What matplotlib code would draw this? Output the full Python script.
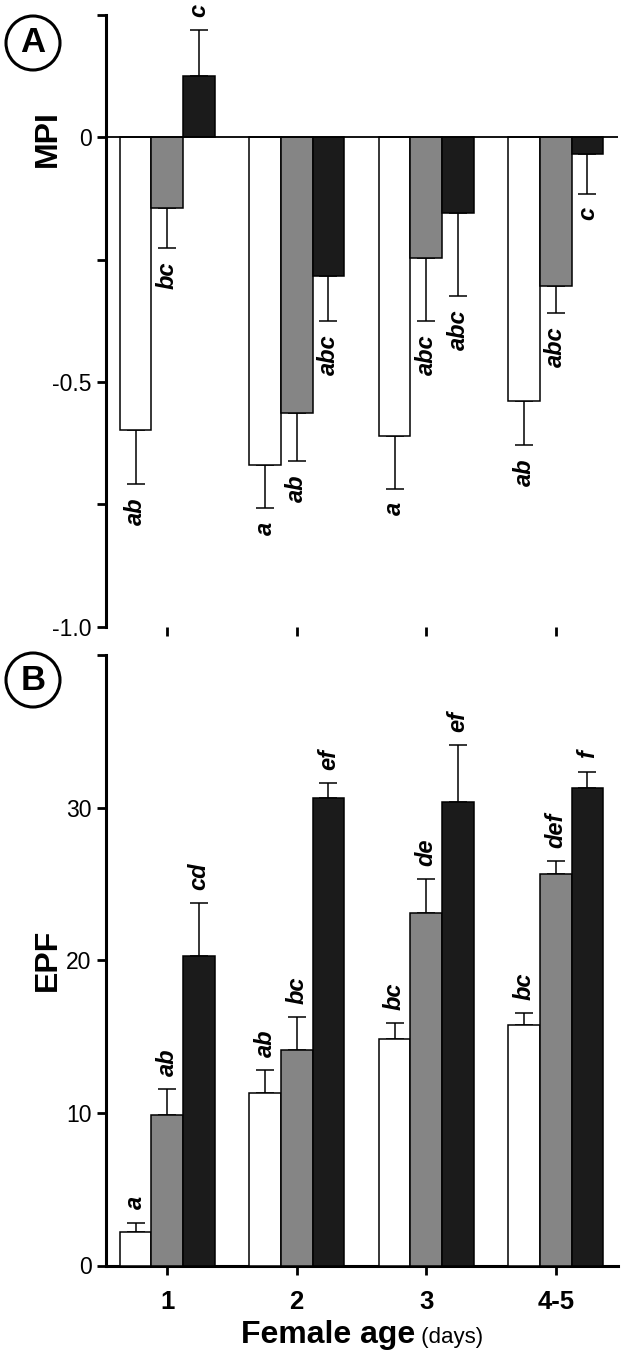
import matplotlib.pyplot as plt
import numpy as np
from matplotlib.patches import Ellipse

plt.rcParams['font.family'] = ['Liberation Sans', 'DejaVu Sans']

# categories
ages = ["1", "2", "3", "4-5"]
bar_colors = ["white", "#858585", "#1b1b1b"]

# panel A: MPI (mean, one-sided SE)
mpi_white = [-0.599, -0.669, -0.611, -0.538]
mpi_gray = [-0.144, -0.564, -0.247, -0.303]
mpi_black = [0.126, -0.283, -0.154, -0.035]
mpi_white_err = [0.110, 0.089, 0.107, 0.091]
mpi_gray_err = [0.082, 0.098, 0.129, 0.056]
mpi_black_err = [0.093, 0.092, 0.171, 0.080]
mpi_white_lab = ["ab", "a", "a", "ab"]
mpi_gray_lab = ["bc", "ab", "abc", "abc"]
mpi_black_lab = ["c", "abc", "abc", "c"]

# panel B: EPF
epf_white = [2.18, 11.3, 14.86, 15.78]
epf_gray = [9.87, 14.1, 23.11, 25.62]
epf_black = [20.26, 30.61, 30.37, 31.31]
epf_white_err = [0.63, 1.51, 1.03, 0.74]
epf_gray_err = [1.71, 2.19, 2.23, 0.88]
epf_black_err = [3.46, 0.98, 3.72, 1.05]
epf_white_lab = ["a", "ab", "bc", "bc"]
epf_gray_lab = ["ab", "bc", "de", "def"]
epf_black_lab = ["cd", "ef", "ef", "f"]

W, H = 623, 1357
fig = plt.figure(figsize=(W / 100, H / 100), dpi=100)

x = np.arange(len(ages))
bw = 0.245
offsets = [-bw, 0, bw]


def draw_bars(ax, series, errs, labels):
    for k in range(3):
        vals = np.array(series[k])
        err = np.array(errs[k])
        xs = x + offsets[k]
        ax.bar(xs, vals, bw, color=bar_colors[k], edgecolor="black", linewidth=1.1, zorder=3)
        lo = np.where(vals < 0, err, 0)
        hi = np.where(vals >= 0, err, 0)
        ax.errorbar(xs, vals, yerr=[lo, hi], fmt="none", ecolor="black",
                    elinewidth=1.1, capsize=6.8, capthick=1.1, zorder=2)
        for xi, v, e, lab in zip(xs, vals, err, labels[k]):
            if v >= 0:
                ax.annotate(lab, (xi, v + e), xytext=(0, 9.5), textcoords="offset points",
                            rotation=90, ha="center", va="bottom", fontsize=17,
                            fontweight="bold", fontstyle="italic")
            else:
                ax.annotate(lab, (xi, v - e), xytext=(0, -9.5), textcoords="offset points",
                            rotation=90, ha="center", va="top", fontsize=17,
                            fontweight="bold", fontstyle="italic")


def style_axis(ax):
    for s in ["top", "right"]:
        ax.spines[s].set_visible(False)
    ax.spines["left"].set_linewidth(2.2)
    ax.spines["bottom"].set_linewidth(2.2)
    ax.tick_params(axis="both", direction="out", length=6.5, width=2, labelsize=16.5, pad=4)
    ax.set_xlim(-0.473, 3.481)
    ax.set_xticks(x)


# Panel A
axA = fig.add_axes([106 / W, 1 - 626.7 / H, 512 / W, (626.7 - 15) / H])
draw_bars(axA, [mpi_white, mpi_gray, mpi_black],
          [mpi_white_err, mpi_gray_err, mpi_black_err],
          [mpi_white_lab, mpi_gray_lab, mpi_black_lab])
axA.axhline(0, color="black", linewidth=1.3, zorder=4)
style_axis(axA)
axA.spines["bottom"].set_visible(False)
axA.set_ylim(-1.0, 0.25)
axA.set_yticks([-1.0, -0.75, -0.5, -0.25, 0, 0.25])
axA.set_yticklabels(["-1.0", "", "-0.5", "", "0", ""])
axA.set_xticklabels([])

# Panel B
axB = fig.add_axes([106 / W, 1 - 1265.5 / H, 512 / W, (1265.5 - 655) / H])
draw_bars(axB, [epf_white, epf_gray, epf_black],
          [epf_white_err, epf_gray_err, epf_black_err],
          [epf_white_lab, epf_gray_lab, epf_black_lab])
style_axis(axB)
axB.set_ylim(0, 40)
axB.set_yticks([0, 10, 20, 30, 40])
axB.set_yticklabels(["0", "10", "20", "30", ""])
axB.set_xticklabels(ages, fontsize=18.5, fontweight="bold")
axB.tick_params(axis="x", pad=11)

# y labels
fig.text(48 / W, 1 - 138.7 / H, "MPI", rotation=90, ha="center", va="center",
         fontsize=23, fontweight="bold")
fig.text(48 / W, 1 - 960 / H, "EPF", rotation=90, ha="center", va="center",
         fontsize=23, fontweight="bold")

# panel letters in circles
for lab, cy in [("A", 43), ("B", 680)]:
    fig.add_artist(Ellipse((33 / W, 1 - cy / H), 54 / W, 54 / H, transform=fig.transFigure,
                           facecolor="white", edgecolor="black", linewidth=2.2))
    fig.text(33 / W, 1 - cy / H, lab, ha="center", va="center", fontsize=25, fontweight="bold")

# x label: bold main part + regular units
renderer = fig.canvas.get_renderer()
t1 = fig.text(0, 1 - 1343 / H, "Female age", fontsize=23, fontweight="bold", va="baseline")
t2 = fig.text(0, 1 - 1343 / H, " (days)", fontsize=16, va="baseline")
w1 = t1.get_window_extent(renderer).width
w2 = t2.get_window_extent(renderer).width
cx = 362
start = cx - (w1 + w2) / 2
t1.set_x(start / W)
t2.set_x((start + w1) / W)

plt.savefig("out.png", dpi=100)
